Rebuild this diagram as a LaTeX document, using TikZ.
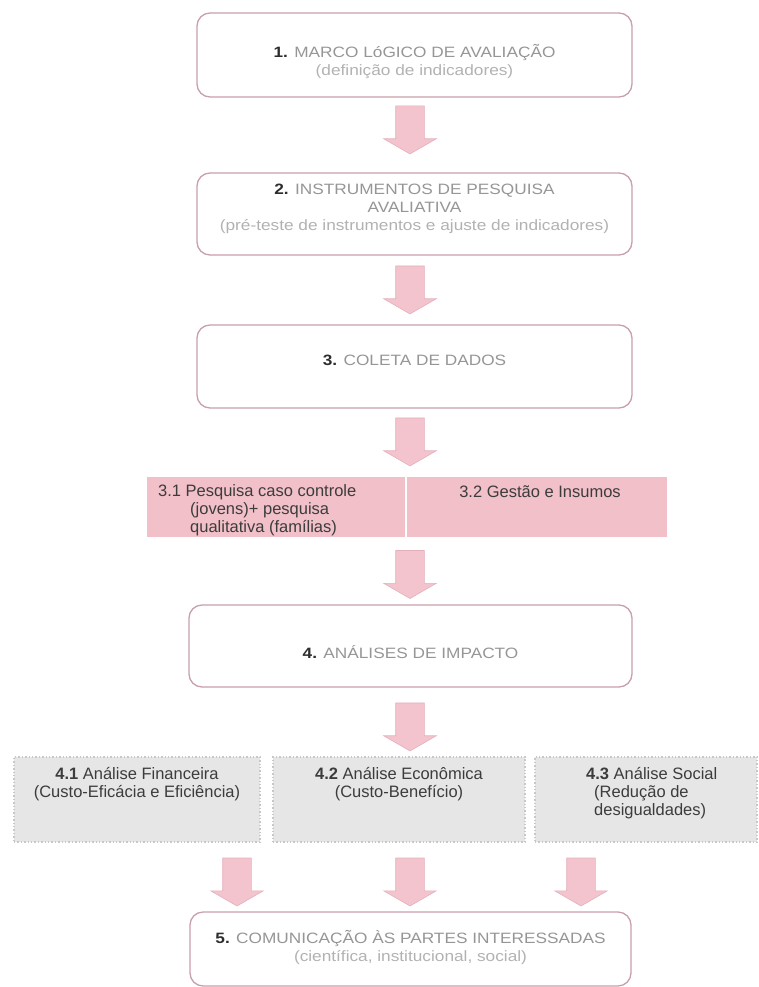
\documentclass[tikz,border=0pt]{standalone}
\usepackage{fontspec}
\setmainfont{Liberation Sans}
\newfontfamily\widefont[FakeStretch=1.15]{Liberation Sans}
\usetikzlibrary{shapes.arrows,calc}
\definecolor{boxedge}{RGB}{200,160,170}
\definecolor{arrowfill}{RGB}{243,196,205}
\definecolor{arrowedge}{RGB}{228,176,188}
\definecolor{bandfill}{RGB}{241,192,200}
\definecolor{greyfill}{RGB}{230,230,230}
\definecolor{greyedge}{RGB}{200,200,200}
\definecolor{titlegrey}{RGB}{150,150,150}
\definecolor{subgrey}{RGB}{178,178,178}
\definecolor{numdark}{RGB}{45,45,45}
\definecolor{bodydark}{RGB}{60,60,60}
\begin{document}
\begin{tikzpicture}[x=1pt,y=-1pt,
  mainbox/.style={draw=boxedge, line width=1.3pt, rounded corners=13pt, fill=white, inner sep=0pt},
  bandbox/.style={fill=bandfill, inner sep=0pt},
  greybox/.style={fill=greyfill, draw=greyedge, line width=1.4pt, dotted, inner sep=0pt},
  titletext/.style={font=\widefont\fontsize{15}{18}\selectfont, text=titlegrey, align=center, inner sep=0pt},
  bodytext/.style={font=\fontsize{16.5}{18}\selectfont, text=bodydark, inner sep=0pt},
  barrow/.style={single arrow, shape border rotate=270, fill=arrowfill, draw=arrowedge, line width=0.6pt,
    minimum height=48pt, inner sep=14pt, single arrow head extend=12pt,
    single arrow tip angle=120, single arrow head indent=0pt, anchor=tail}
]
\useasboundingbox (0,0) rectangle (759,987);
\coordinate (ax) at (410,0);

% main boxes
\node[mainbox, minimum width=435pt, minimum height=84pt] (b1) at (414.5,55) {};
\node[mainbox, minimum width=435pt, minimum height=82pt] (b2) at (414.5,214) {};
\node[mainbox, minimum width=435pt, minimum height=83pt] (b3) at (414.5,366.5) {};
\node[mainbox, minimum width=443pt, minimum height=82pt] (b4) at (410.5,646) {};
\node[mainbox, minimum width=441pt, minimum height=74pt] (b5) at (410.5,949) {};

% band 3.x
\node[bandbox, minimum width=259pt, minimum height=60pt] (b31) at (276.5,507) {};
\node[bandbox, minimum width=261pt, minimum height=60pt] (b32) at (536.5,507) {};
\draw[white, line width=1.5pt] (b31.north east) -- (b31.south east);

% grey boxes 4.x
\node[greybox, minimum width=246pt, minimum height=85pt] (b41) at (137,799.5) {};
\node[greybox, minimum width=252pt, minimum height=85pt] (b42) at (399,799.5) {};
\node[greybox, minimum width=222pt, minimum height=85pt] (b43) at (646,799.5) {};

% texts
\node[titletext] (t1) at (414.5,61.5) {{\bfseries\color{numdark}1.} MARCO LóGICO DE AVALIAÇÃO\\{\color{subgrey}(definição de indicadores)}};
\node[titletext] (t2) at (414.5,208.5) {{\bfseries\color{numdark}2.} INSTRUMENTOS DE PESQUISA\\AVALIATIVA\\{\color{subgrey}(pré-teste de instrumentos e ajuste de indicadores)}};
\node[titletext] (t3) at (414.5,360) {{\bfseries\color{numdark}3.} COLETA DE DADOS};
\node[titletext] (t4) at (410.5,652) {{\bfseries\color{numdark}4.} ANÁLISES DE IMPACTO};
\node[titletext] (t5) at (410.5,947.5) {{\bfseries\color{numdark}5.} COMUNICAÇÃO ÀS PARTES INTERESSADAS\\{\color{subgrey}(científica, institucional, social)}};

\node[bodytext, align=left, anchor=west] (t31) at (158,510) {3.1 Pesquisa caso controle\\\hspace*{32pt}(jovens)+ pesquisa\\\hspace*{32pt}qualitativa (famílias)};
\node[bodytext] (t32) at (540,492) {3.2 Gestão e Insumos};

\node[bodytext, align=center] (t41) at (137,784) {\textbf{4.1} Análise Financeira\\(Custo-Eficácia e Eficiência)};
\node[bodytext, align=center] (t42) at (399,784) {\textbf{4.2} Análise Econômica\\(Custo-Benefício)};
\node[bodytext, align=left, anchor=west] (t43) at (586,793) {\textbf{4.3} Análise Social\\\hspace*{8pt}(Redução de\\\hspace*{8pt}desigualdades)};

% block arrows
\node[barrow] (a1) at ($(b1.south -| ax)+(0,8)$) {};
\node[barrow] (a2) at ($(b2.south -| ax)+(0,10)$) {};
\node[barrow] (a3) at ($(b3.south -| ax)+(0,9)$) {};
\node[barrow] (a4) at ($(b31.south east -| ax)+(0,13)$) {};
\node[barrow] (a5) at ($(b4.south -| ax)+(0,15)$) {};
\node[barrow] (a6) at ($(b41.south)+(100,15)$) {};
\node[barrow] (a7) at ($(b42.south)+(11,15)$) {};
\node[barrow] (a8) at ($(b43.south)+(-65,15)$) {};
\end{tikzpicture}
\end{document}
